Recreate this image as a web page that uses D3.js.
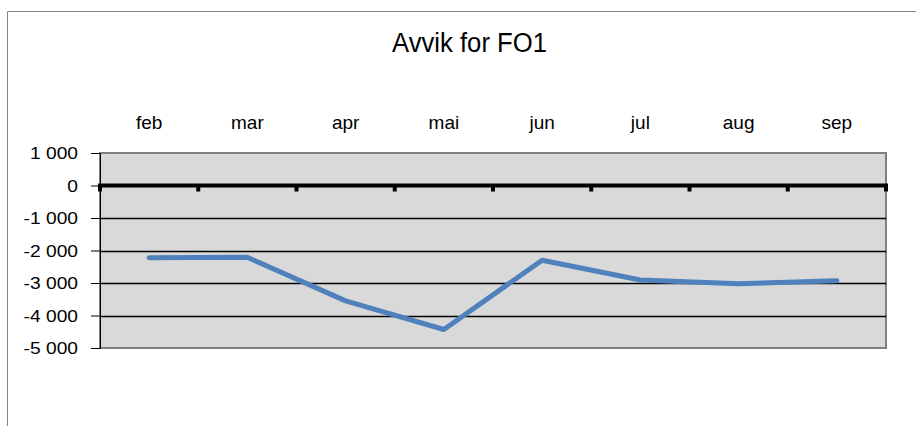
<!DOCTYPE html>
<html>
<head>
<meta charset="utf-8">
<script src="https://cdn.jsdelivr.net/npm/d3@7"></script>
<style>
  body { margin: 0; background: #fff; }
  svg { display: block; }
</style>
</head>
<body>
<svg id="chart"></svg>
<script>
// data
const months = ['feb', 'mar', 'apr', 'mai', 'jun', 'jul', 'aug', 'sep'];
const avvik = [-2220, -2210, -3550, -4430, -2300, -2910, -3020, -2930];
const yTicks = [1000, 0, -1000, -2000, -3000, -4000, -5000];

// window constants
const width = 916;
const height = 426;
const plot = { left: 100, right: 886, top: 153, bottom: 348 };

const svg = d3.select('#chart')
    .attr('width', width)
    .attr('height', height);

// chart frame
svg.append('path')
    .attr('d', `M7.5,${height} V11.5 H${width}`)
    .attr('fill', 'none')
    .attr('stroke', '#868686')
    .attr('stroke-width', 1);

svg.append('text')
    .attr('x', 392)
    .attr('y', 52)
    .attr('textLength', 155)
    .attr('lengthAdjust', 'spacingAndGlyphs')
    .attr('font-family', 'Liberation Sans, Arial, sans-serif')
    .attr('font-size', 27)
    .attr('fill', '#000')
    .text('Avvik for FO1');

const x = d3.scaleBand()
    .domain(months)
    .range([plot.left, plot.right]);

const y = d3.scaleLinear()
    .domain([-5000, 1000])
    .range([plot.bottom, plot.top]);

// plot area
svg.append('rect')
    .attr('x', plot.left)
    .attr('y', plot.top)
    .attr('width', plot.right - plot.left)
    .attr('height', plot.bottom - plot.top)
    .attr('fill', '#d9d9d9')
    .attr('stroke', '#808080')
    .attr('stroke-width', 2);

// gridlines
svg.append('g')
    .selectAll('line')
    .data(yTicks.filter(d => d !== 0 && d !== 1000 && d !== -5000))
    .enter()
    .append('line')
        .attr('x1', plot.left)
        .attr('x2', plot.right)
        .attr('y1', d => Math.round(y(d)) + 0.5)
        .attr('y2', d => Math.round(y(d)) + 0.5)
        .attr('stroke', '#000')
        .attr('stroke-width', 1.5);

// y axis (labels drawn separately, slightly stretched like the original)
const fmt = d => d3.format(',')(d).replace(/,/g, ' ').replace('−', '-');
const yAxis = svg.append('g')
    .attr('transform', `translate(${plot.left},0)`)
    .call(d3.axisLeft(y).tickValues(yTicks).tickSize(9).tickFormat(''));
yAxis.select('.domain').attr('stroke', '#000').attr('stroke-width', 1);
yAxis.selectAll('.tick line').attr('stroke', '#000');

svg.append('g')
    .selectAll('text')
    .data(yTicks)
    .enter()
    .append('text')
        .attr('transform', d => `translate(78,${y(d) + 6}) scale(1.2,1)`)
        .attr('text-anchor', 'end')
        .attr('font-family', 'Liberation Sans, Arial, sans-serif')
        .attr('font-size', 16)
        .attr('fill', '#000')
        .text(fmt);

// zero line with category ticks
svg.append('line')
    .attr('x1', plot.left - 2)
    .attr('x2', plot.right + 2)
    .attr('y1', y(0))
    .attr('y2', y(0))
    .attr('stroke', '#000')
    .attr('stroke-width', 4);

const xAxis = svg.append('g')
    .attr('transform', `translate(0,${y(0)})`);
xAxis.selectAll('rect')
    .data(months.map(m => x(m)).concat([plot.right]))
    .enter()
    .append('rect')
        .attr('x', d => d - 2)
        .attr('y', 0)
        .attr('width', 4)
        .attr('height', 6)
        .attr('fill', '#000');

// category labels above the plot
svg.append('g')
    .selectAll('text')
    .data(months)
    .enter()
    .append('text')
        .attr('x', d => x(d) + x.bandwidth() / 2)
        .attr('y', 129)
        .attr('text-anchor', 'middle')
        .attr('font-family', 'Liberation Sans, Arial, sans-serif')
        .attr('font-size', 19)
        .attr('fill', '#000')
        .text(d => d);

// series
const line = d3.line()
    .x((d, i) => x(months[i]) + x.bandwidth() / 2)
    .y(d => y(d));

svg.append('path')
    .datum(avvik)
    .attr('d', line)
    .attr('fill', 'none')
    .attr('stroke', '#4f81bd')
    .attr('stroke-width', 5)
    .attr('stroke-linejoin', 'round')
    .attr('stroke-linecap', 'round');
</script>
</body>
</html>
